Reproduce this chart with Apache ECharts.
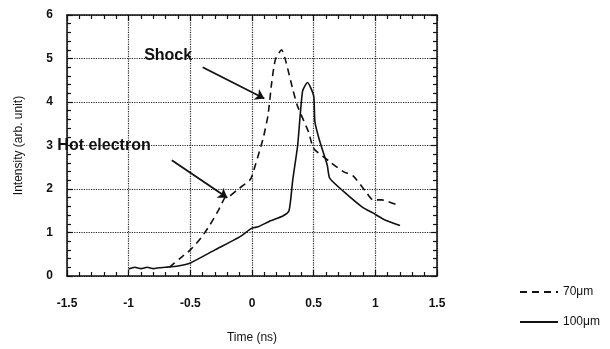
<!DOCTYPE html>
<html>
<head>
<meta charset="utf-8">
<script src="https://cdn.jsdelivr.net/npm/echarts@6/dist/echarts.min.js"></script>
<style>
  html, body { margin: 0; padding: 0; background: #fff; }
  #chart { width: 610px; height: 349px; }
</style>
</head>
<body>
<div id="chart"></div>
<script>
// 70um target (dashed)
var time70 = [-0.67, -0.59, -0.5, -0.41, -0.34, -0.27, -0.22, -0.18, -0.12, -0.02, 0.0, 0.09, 0.13, 0.16, 0.19, 0.24, 0.27, 0.33, 0.37, 0.46, 0.5, 0.63, 0.74, 0.82, 0.92, 0.98, 1.05, 1.2];
var int70 = [0.2, 0.39, 0.6, 0.89, 1.18, 1.52, 1.8, 1.84, 1.98, 2.2, 2.3, 3.16, 3.7, 4.45, 4.98, 5.2, 4.98, 4.3, 3.9, 3.3, 2.93, 2.63, 2.4, 2.3, 1.95, 1.75, 1.75, 1.61];
// 100um target (solid)
var time100 = [-1.0, -0.95, -0.9, -0.85, -0.8, -0.75, -0.7, -0.6, -0.5, -0.3, -0.1, 0.0, 0.05, 0.15, 0.25, 0.3, 0.33, 0.37, 0.41, 0.45, 0.5, 0.51, 0.55, 0.61, 0.63, 0.74, 0.9, 0.98, 1.07, 1.2];
var int100 = [0.16, 0.2, 0.17, 0.2, 0.17, 0.19, 0.2, 0.23, 0.3, 0.6, 0.9, 1.1, 1.13, 1.27, 1.38, 1.5, 2.2, 3.0, 4.25, 4.45, 4.14, 3.55, 3.09, 2.55, 2.25, 1.95, 1.57, 1.45, 1.3, 1.16];

var xTicks = [-1.5, -1, -0.5, 0, 0.5, 1, 1.5];
var yTicks = [0, 1, 2, 3, 4, 5, 6];

function pairs(xs, ys) {
    return xs.map(function (x, i) { return [x, ys[i]]; });
}

var myChart = echarts.init(document.getElementById('chart'));

var axisCommon = {
    axisLine: { onZero: false, lineStyle: { color: '#111', width: 1.5 } },
    axisTick: { show: true, inside: true, length: 6, lineStyle: { color: '#111', width: 1.2 } },
    minorTick: { show: true, splitNumber: 5, length: 4, lineStyle: { color: '#111', width: 1.2 } }
};

var option = {
    animation: false,
    backgroundColor: '#fff',
    textStyle: { fontFamily: 'Liberation Sans, Arial, sans-serif' },
    grid: { left: 67, top: 15, right: 173, bottom: 70 },
    legend: {
        orient: 'vertical',
        left: 514,
        top: 281,
        itemWidth: 38,
        itemHeight: 10,
        itemGap: 18,
        itemStyle: { opacity: 0 },
        textStyle: { fontSize: 12, color: '#111' },
        data: ['70μm', '100μm']
    },
    xAxis: [
        Object.assign({
            type: 'value', min: -1.5, max: 1.5, interval: 0.5,
            name: 'Time (ns)', nameLocation: 'middle', nameGap: 56,
            nameTextStyle: { fontSize: 12, color: '#111' },
            axisLabel: { margin: 22, fontSize: 12, fontWeight: 'bold', color: '#111',
                formatter: function (v) { return xTicks.indexOf(v) >= 0 ? String(v) : ''; } },
            splitLine: { show: true, lineStyle: { color: '#222', type: 'dotted', width: 1.2 } }
        }, axisCommon),
        Object.assign({
            type: 'value', min: -1.5, max: 1.5, interval: 0.5, position: 'top',
            axisLabel: { show: false }, splitLine: { show: false }
        }, axisCommon)
    ],
    yAxis: [
        Object.assign({
            type: 'value', min: 0, max: 6, interval: 1,
            name: 'Intensity (arb. unit)', nameLocation: 'middle', nameGap: 42,
            nameTextStyle: { fontSize: 12, color: '#111' },
            axisLabel: { margin: 14, fontSize: 12, fontWeight: 'bold', color: '#111',
                formatter: function (v) { return yTicks.indexOf(v) >= 0 ? String(v) : ''; } },
            splitLine: { show: true, lineStyle: { color: '#222', type: 'dotted', width: 1.2 } }
        }, axisCommon),
        Object.assign({
            type: 'value', min: 0, max: 6, interval: 1, position: 'right',
            axisLabel: { show: false }, splitLine: { show: false }
        }, axisCommon)
    ],
    series: [
        {
            name: '70μm',
            type: 'line',
            data: pairs(time70, int70),
            showSymbol: false,
            symbol: 'none',
            smooth: 0.2,
            lineStyle: { color: '#111', width: 1.6, type: [7, 5] },
            itemStyle: { color: '#111' },
            markLine: {
                silent: true,
                symbol: ['none', 'arrow'],
                symbolSize: 9,
                lineStyle: { color: '#111', width: 1.8, type: 'solid' },
                label: { show: false },
                data: [
                    [{ coord: [-0.4, 4.8] }, { coord: [0.1, 4.08] }],
                    [{ coord: [-0.65, 2.66] }, { coord: [-0.2, 1.8] }]
                ]
            },
            markPoint: {
                silent: true,
                symbol: 'circle',
                symbolSize: 0,
                label: { show: true, fontSize: 16, fontWeight: 'bold', color: '#111' },
                data: [
                    { coord: [-0.68, 5.07], value: 'Shock', label: { formatter: 'Shock' } },
                    { coord: [-1.2, 3.0], value: 'Hot electron', label: { formatter: 'Hot electron' } }
                ]
            }
        },
        {
            name: '100μm',
            type: 'line',
            data: pairs(time100, int100),
            showSymbol: false,
            symbol: 'none',
            smooth: 0.2,
            lineStyle: { color: '#111', width: 1.6 },
            itemStyle: { color: '#111' }
        }
    ]
};

myChart.setOption(option);
</script>
</body>
</html>
